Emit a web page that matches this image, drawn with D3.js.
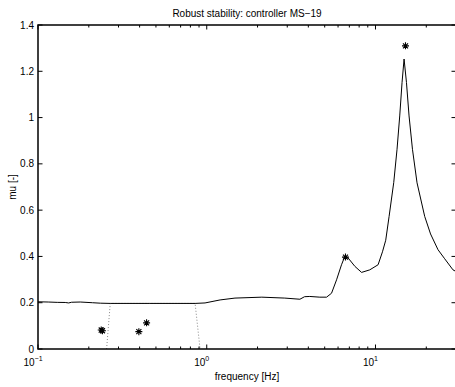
<!DOCTYPE html>
<html>
<head>
<meta charset="utf-8">
<script src="https://cdn.jsdelivr.net/npm/d3@7"></script>
<style>
  html, body { margin: 0; padding: 0; background: #fff; }
  svg { display: block; }
</style>
</head>
<body>
<div id="chart"></div>
<script>
// mu curve
const freqHz = [0.1, 0.115, 0.13, 0.145, 0.152, 0.158, 0.178, 0.21, 0.234, 0.268, 0.46, 0.853, 0.977,
    1.2, 1.47, 2.12, 2.9, 3.565, 3.8, 4.08, 4.68, 5.13, 5.49, 5.88, 6.29, 6.58, 6.89, 7.55, 8.27, 9.25,
    10.36, 11.0, 11.5, 12.04, 12.83, 13.42, 13.92, 14.37, 14.77, 15.26, 15.81, 16.56, 17.63, 19.57,
    21.2, 23.47, 25.7, 28.79, 30];
const muValues = [0.204, 0.203, 0.2015, 0.201, 0.199, 0.202, 0.203, 0.2, 0.198, 0.197, 0.197, 0.197, 0.199,
    0.212, 0.22, 0.224, 0.22, 0.215, 0.226, 0.227, 0.224, 0.224, 0.241, 0.299, 0.364, 0.4, 0.393, 0.357, 0.331, 0.342,
    0.364, 0.42, 0.47, 0.573, 0.72, 0.863, 1.007, 1.152, 1.253, 1.152, 1.007, 0.863, 0.718, 0.573,
    0.497, 0.429, 0.39, 0.342, 0.335];

// star markers
const starFreqHz = [0.237, 0.241, 0.396, 0.44, 6.64, 15.06];
const starMu = [0.082, 0.079, 0.075, 0.113, 0.397, 1.31];

// dotted bound
const boundFreqHz = [0.255, 0.268, 0.853, 0.913];
const boundMu = [0, 0.197, 0.197, 0];

const yTicks = [0, 0.2, 0.4, 0.6, 0.8, 1, 1.2, 1.4];
const yTickLabels = ['0', '0.2', '0.4', '0.6', '0.8', '1', '1.2', '1.4'];
const xMajorTicks = [0.1, 1, 10];
const xMajorExp = ['−1', '0', '1'];

const titleText = 'Robust stability: controller MS−19';
const xLabelText = 'frequency [Hz]';
const yLabelText = 'mu [-]';

const svgWidth = 455, svgHeight = 387;
const plotLeft = 38, plotTop = 25, plotRight = 456, plotBottom = 349;
const font = 'Liberation Sans, Arial, Helvetica, sans-serif';

const svg = d3.select('#chart').append('svg')
    .attr('width', svgWidth)
    .attr('height', svgHeight)
    .attr('font-family', font);

const x = d3.scaleLog().domain([0.1, 30]).range([plotLeft, plotRight]);
const y = d3.scaleLinear().domain([0, 1.4]).range([plotBottom, plotTop]);

// minor ticks for log axis
const xMinorTicks = x.ticks().filter(d => !xMajorTicks.some(m => Math.abs(m - d) < 1e-9));

const plot = svg.append('g');

// dotted bound
plot.append('path')
    .datum(boundFreqHz.map((f, i) => [f, boundMu[i]]))
    .attr('fill', 'none')
    .attr('stroke', '#888')
    .attr('stroke-width', 1)
    .attr('stroke-dasharray', '1,2')
    .attr('d', d3.line().x(d => x(d[0])).y(d => y(d[1])));

// mu curve
plot.append('path')
    .datum(freqHz.map((f, i) => [f, muValues[i]]))
    .attr('fill', 'none')
    .attr('stroke', '#000')
    .attr('stroke-width', 1)
    .attr('stroke-linejoin', 'round')
    .attr('d', d3.line().x(d => x(d[0])).y(d => y(d[1])));

// stars (plus + cross)
const s = 3.5;
const k = s * 0.72;
const starPath = `M${-s},0L${s},0M0,${-s}L0,${s}M${-k},${-k}L${k},${k}M${-k},${k}L${k},${-k}`;
plot.selectAll('.star')
    .data(starFreqHz.map((f, i) => [f, starMu[i]]))
    .enter().append('path')
    .attr('class', 'star')
    .attr('transform', d => `translate(${x(d[0])},${y(d[1])})`)
    .attr('d', starPath)
    .attr('fill', 'none')
    .attr('stroke', '#000')
    .attr('stroke-width', 1.1);

// frame
const axes = svg.append('g').attr('stroke', '#000');
axes.append('rect')
    .attr('x', plotLeft).attr('y', plotTop)
    .attr('width', plotRight - plotLeft).attr('height', plotBottom - plotTop)
    .attr('fill', 'none')
    .attr('stroke-width', 1.5);

const majorLen = 4.5, minorLen = 2.5;

// y ticks, both sides, inward
yTicks.forEach(v => {
    axes.append('line').attr('x1', plotLeft).attr('x2', plotLeft + majorLen)
        .attr('y1', y(v)).attr('y2', y(v)).attr('stroke-width', 1);
    axes.append('line').attr('x1', plotRight - majorLen).attr('x2', plotRight)
        .attr('y1', y(v)).attr('y2', y(v)).attr('stroke-width', 1);
});

// x ticks, top and bottom, inward
xMajorTicks.concat(xMinorTicks).forEach(v => {
    const len = xMajorTicks.includes(v) ? majorLen : minorLen;
    axes.append('line').attr('x1', x(v)).attr('x2', x(v))
        .attr('y1', plotBottom).attr('y2', plotBottom - len).attr('stroke-width', 1);
    axes.append('line').attr('x1', x(v)).attr('x2', x(v))
        .attr('y1', plotTop).attr('y2', plotTop + len).attr('stroke-width', 1);
});

// y tick labels
svg.selectAll('.ylab')
    .data(yTicks)
    .enter().append('text')
    .attr('class', 'ylab')
    .attr('x', plotLeft - 4)
    .attr('y', d => y(d) + 3.5)
    .attr('text-anchor', 'end')
    .attr('font-size', 10)
    .text((d, i) => yTickLabels[i]);

// x tick labels with superscript exponent
const xl = svg.selectAll('.xlab')
    .data(xMajorTicks)
    .enter().append('text')
    .attr('class', 'xlab')
    .attr('x', d => x(d) - 5)
    .attr('y', plotBottom + 17)
    .attr('text-anchor', 'middle')
    .attr('font-size', 10);
xl.append('tspan').text('10');
xl.append('tspan')
    .attr('dy', -5)
    .attr('font-size', 7)
    .text((d, i) => xMajorExp[i]);

// title & axis labels
svg.append('text')
    .attr('x', (plotLeft + plotRight) / 2)
    .attr('y', 17)
    .attr('text-anchor', 'middle')
    .attr('font-size', 10)
    .text(titleText);

svg.append('text')
    .attr('x', (plotLeft + plotRight) / 2)
    .attr('y', 380)
    .attr('text-anchor', 'middle')
    .attr('font-size', 10)
    .text(xLabelText);

svg.append('text')
    .attr('transform', `translate(16,${(plotTop + plotBottom) / 2}) rotate(-90)`)
    .attr('text-anchor', 'middle')
    .attr('font-size', 10)
    .text(yLabelText);
</script>
</body>
</html>
